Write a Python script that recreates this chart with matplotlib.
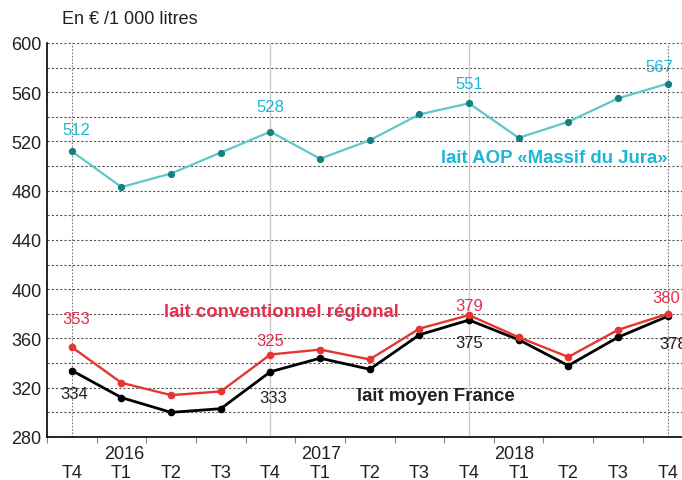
import numpy as np
import matplotlib.pyplot as plt
import matplotlib.transforms as mtransforms

plt.rcParams['font.family'] = ['Liberation Sans', 'DejaVu Sans']

# Data (En € / 1 000 litres)
quarters = ['T4', 'T1', 'T2', 'T3', 'T4', 'T1', 'T2', 'T3', 'T4', 'T1', 'T2', 'T3', 'T4']
years = ['2016', '2017', '2018']
year_pos = [1.05, 5.03, 8.92]

aop_jura = [512, 483, 494, 511, 528, 506, 521, 542, 551, 523, 536, 555, 567]
conv_regional = [353, 324, 314, 317, 347, 351, 343, 368, 379, 361, 345, 367, 380]
moyen_france = [334, 312, 300, 303, 333, 344, 335, 363, 375, 359, 338, 361, 378]

# labelled points: (index, text, dx px, dy px)
aop_labels = [(0, '512', 5, 22), (4, '528', 0, 25), (8, '551', 0, 20), (12, '567', -8, 17)]
conv_labels = [(0, '353', 4, 29), (4, '325', 0, 14), (8, '379', 0, 10), (12, '380', -1, 16)]
france_labels = [(0, '334', 2, -23), (4, '333', 3, -26), (8, '375', 0, -22), (12, '378', 6, -27)]

x = np.arange(len(quarters))

fig = plt.figure(figsize=(6.82, 4.81), dpi=100)
ax = fig.add_axes([47 / 682, 1 - 438 / 481, 635 / 682, 394 / 481])

cyan_line = '#5ec7c7'
cyan_mark = '#15807d'
cyan_text = '#1cb6d8'
red_line = '#e6352f'
red_text = '#e52f4d'
txt = '#231f20'

# grid
for v in range(300, 601, 20):
    ax.axhline(v, color='#555555', lw=0.8, ls=(0, (2, 1.8)), zorder=0)
for i in [0, 12]:
    ax.axvline(i, color='#777777', lw=0.8, ls=(0, (1.5, 1.5)), zorder=0)
for i in [4, 8]:
    ax.axvline(i, color='#cccccc', lw=1.0, zorder=0)

ax.plot(x, aop_jura, color=cyan_line, lw=1.6, zorder=3)
ax.plot(x, aop_jura, 'o', color=cyan_mark, ms=4.2, zorder=4)
ax.plot(x, moyen_france, color='black', lw=2.0, marker='o', ms=4.5, zorder=3)
ax.plot(x, conv_regional, color=red_line, lw=1.7, marker='o', ms=4.5, zorder=4)

def put_labels(values, labels, color):
    for i, t, dx, dy in labels:
        ax.annotate(t, (x[i], values[i]), xytext=(dx * 0.72, dy * 0.72),
                    textcoords='offset points', ha='center', va='center',
                    fontsize=12, color=color, zorder=5)

put_labels(aop_jura, aop_labels, cyan_text)
put_labels(conv_regional, conv_labels, red_text)
put_labels(moyen_france, france_labels, txt)

ax.text(12, 507, 'lait AOP «Massif du Jura»', color=cyan_text, fontsize=13.4,
        fontweight='bold', ha='right', va='center')
ax.text(1.86, 382, 'lait conventionnel régional', color=red_text, fontsize=13.4,
        fontweight='bold', ha='left', va='center')
ax.text(5.74, 314, 'lait moyen France', color=txt, fontsize=13.4,
        fontweight='bold', ha='left', va='center')

ax.set_xlim(-0.5, 12.29)
ax.set_ylim(280, 600)
ax.set_yticks(range(280, 601, 40))
ax.tick_params(axis='y', length=0, pad=4, labelsize=13, labelcolor=txt)

ax.set_xticks(x)
ax.set_xticklabels(quarters)
ax.tick_params(axis='x', which='major', length=0, pad=19.5, labelsize=13, labelcolor=txt)
ax.set_xticks(np.arange(-0.5, 12, 1), minor=True)
ax.tick_params(axis='x', which='minor', length=4, width=0.8, color='#888888')

trans = mtransforms.blended_transform_factory(ax.transData, ax.transAxes)
for p, yr in zip(year_pos, years):
    ax.text(p, -0.041, yr, transform=trans, ha='center', va='center',
            fontsize=13, color=txt)

for s in ['top', 'right']:
    ax.spines[s].set_visible(False)
ax.spines['left'].set_linewidth(1.2)
ax.spines['bottom'].set_linewidth(1.2)

fig.text(62 / 682, 1 - 19 / 481, 'En € /1 000 litres', fontsize=13, color=txt,
         ha='left', va='center')

fig.savefig('out.png', dpi=100)
